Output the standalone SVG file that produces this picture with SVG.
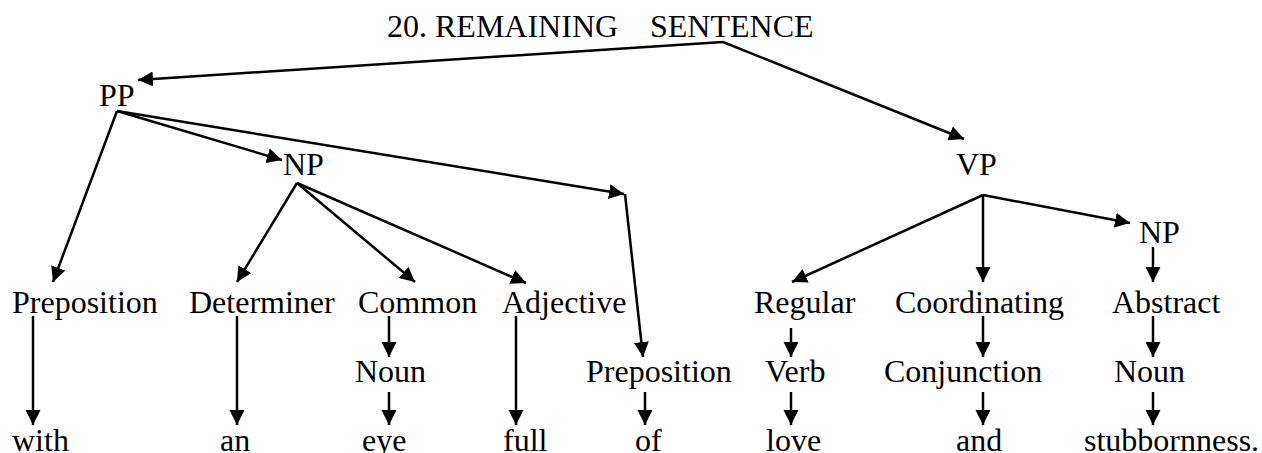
<svg xmlns="http://www.w3.org/2000/svg" width="1262" height="453" viewBox="0 0 1262 453">
  <style>
    text { font-family: "Liberation Serif", "Times New Roman", serif; font-size: 32px; fill: #000; }
    .edge { stroke: #000; stroke-width: 2.5; fill: none; marker-end: url(#head); }
    .plain { stroke: #000; stroke-width: 2.5; fill: none; }
  </style>
  <defs>
    <marker id="head" markerUnits="userSpaceOnUse" markerWidth="16" markerHeight="16" refX="15" refY="7.5" orient="auto">
      <path d="M0,0 L15,7.5 L0,15 Z" fill="#000"/>
    </marker>
  </defs>
  <rect width="1262" height="453" fill="#fff"/>

  <!-- connectors -->
  <g id="connectors">
    <path class="edge" d="M723,42 L138,80"/>
    <path class="edge" d="M723,42 L964,139"/>
    <path class="edge" d="M117,111 L53,282"/>
    <path class="edge" d="M117,111 L282,160"/>
    <path class="edge" d="M117,111 L624,194"/>
    <path class="edge" d="M625,194 L643,357"/>
    <path class="edge" d="M297,183 L237,282"/>
    <path class="edge" d="M297,183 L415,282"/>
    <path class="edge" d="M297,183 L526,283"/>
    <path class="edge" d="M33,316 L33,425"/>
    <path class="edge" d="M237,316 L237,425"/>
    <path class="edge" d="M389,316 L389,357"/>
    <path class="edge" d="M389,392 L389,425"/>
    <path class="edge" d="M516,316 L516,425"/>
    <path class="edge" d="M645,392 L645,425"/>
    <path class="edge" d="M983,195 L792,282"/>
    <path class="edge" d="M791,328 L791,357"/>
    <path class="edge" d="M791,392 L791,425"/>
    <path class="edge" d="M983,195 L983,282"/>
    <path class="edge" d="M983,195 L1130,223"/>
    <path class="edge" d="M1153,247 L1153,282"/>
    <path class="edge" d="M983,316 L983,357"/>
    <path class="edge" d="M983,392 L983,425"/>
    <path class="edge" d="M1153,316 L1153,357"/>
    <path class="edge" d="M1153,392 L1153,425"/>
  </g>

  <!-- nodes -->
  <g id="title"><text x="387" y="37">20. REMAINING<tspan x="650">SENTENCE</tspan></text></g>
  <g id="pp"><text x="99" y="106">PP</text></g>
  <g id="np1"><text x="283" y="175">NP</text></g>
  <g id="vp"><text x="956" y="175">VP</text></g>
  <g id="np2"><text x="1139" y="243">NP</text></g>

  <g id="preposition1"><text x="12" y="313">Preposition</text></g>
  <g id="determiner"><text x="189" y="313">Determiner</text></g>
  <g id="common"><text x="358" y="313">Common</text></g>
  <g id="adjective"><text x="502" y="313">Adjective</text></g>
  <g id="regular"><text x="754" y="313">Regular</text></g>
  <g id="coordinating"><text x="895" y="313">Coordinating</text></g>
  <g id="abstract"><text x="1112" y="313">Abstract</text></g>

  <g id="noun1"><text x="355" y="382">Noun</text></g>
  <g id="preposition2"><text x="586" y="382">Preposition</text></g>
  <g id="verb"><text x="765" y="382">Verb</text></g>
  <g id="conjunction"><text x="884" y="382">Conjunction</text></g>
  <g id="noun2"><text x="1114" y="382">Noun</text></g>

  <g id="w-with"><text x="12" y="451">with</text></g>
  <g id="w-an"><text x="220" y="451">an</text></g>
  <g id="w-eye"><text x="362" y="451">eye</text></g>
  <g id="w-full"><text x="503" y="451">full</text></g>
  <g id="w-of"><text x="635" y="451">of</text></g>
  <g id="w-love"><text x="766" y="451">love</text></g>
  <g id="w-and"><text x="956" y="451">and</text></g>
  <g id="w-stubbornness"><text x="1084" y="451">stubbornness.</text></g>
</svg>
